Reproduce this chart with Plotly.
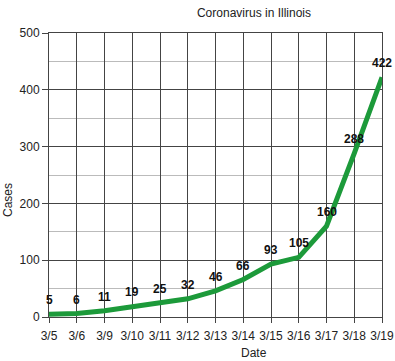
import plotly.graph_objects as go

dates = ["3/5", "3/6", "3/9", "3/10", "3/11", "3/12", "3/13", "3/14", "3/15", "3/16", "3/17", "3/18", "3/19"]
cases = [5, 6, 11, 19, 25, 32, 46, 66, 93, 105, 160, 288, 422]

FONT = "Liberation Sans, Arial"
fig = go.Figure()
fig.add_trace(go.Scatter(
    x=dates, y=cases, mode="lines",
    line=dict(color="#1c9a3a", width=5),
    cliponaxis=False,
))

annots = []
for d, v in zip(dates, cases):
    annots.append(dict(x=d, y=v, xref="x", yref="y", text="<b>%d</b>" % v, showarrow=False,
                       yshift=14, font=dict(family=FONT, size=12, color="#111")))
# axis titles
annots.append(dict(x=0.616, y=0, xref="paper", yref="paper", yshift=-36, xanchor="center", yanchor="middle",
                   text="Date", showarrow=False, font=dict(family=FONT, size=12, color="#222")))
annots.append(dict(x=0, y=0.412, xref="paper", yref="paper", xshift=-41, xanchor="center", yanchor="middle",
                   text="Cases", textangle=-90, showarrow=False, font=dict(family=FONT, size=12, color="#222")))

fig.update_layout(
    width=395, height=361,
    margin=dict(l=49, r=13, t=33, b=44),
    plot_bgcolor="white", paper_bgcolor="white",
    showlegend=False,
    font=dict(family=FONT, size=12, color="#222"),
    title=dict(text="Coronavirus in Illinois", x=0.643, xanchor="center", y=0.975, yanchor="top",
               font=dict(size=12, color="#222")),
    annotations=annots,
)
fig.update_xaxes(
    type="category", range=[0, 12], automargin=False,
    showgrid=True, gridcolor="#444", gridwidth=1,
    showline=True, linecolor="#444", mirror=True,
    ticks="outside", ticklen=5, tickcolor="#444", ticklabelstandoff=3,
    tickfont=dict(size=12, color="#222"),
)
fig.update_yaxes(
    range=[0, 500], dtick=100, automargin=False,
    showgrid=True, gridcolor="#444", gridwidth=1,
    minor=dict(dtick=50, showgrid=True, gridcolor="#bbb", gridwidth=1),
    showline=True, linecolor="#444", mirror=True,
    ticks="outside", ticklen=6, tickcolor="#444",
    tickfont=dict(size=12, color="#222"),
    zeroline=False,
)

fig.write_html("out.html")
